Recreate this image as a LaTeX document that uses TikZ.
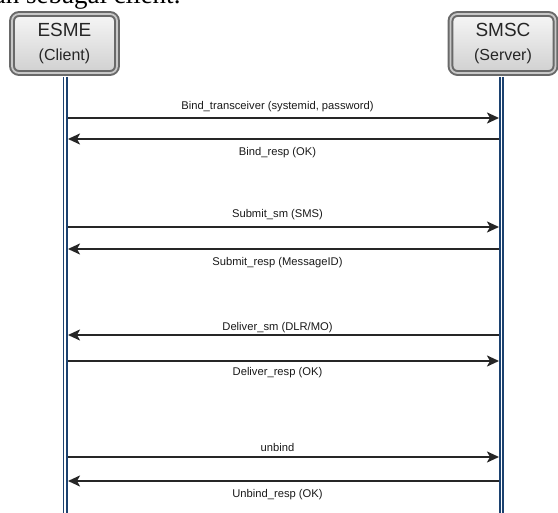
\documentclass[tikz,border=0pt]{standalone}
\usepackage{fontspec}
\setmainfont{Liberation Sans}
\newfontfamily\bodyserif{Liberation Serif}
\usetikzlibrary{arrows.meta}

\definecolor{boxedge}{RGB}{105,105,105}
\definecolor{boxgap}{RGB}{200,200,200}
\definecolor{boxtop}{RGB}{246,246,246}
\definecolor{boxbottom}{RGB}{208,208,208}
\definecolor{lifeblue}{RGB}{28,66,112}
\definecolor{msgline}{RGB}{38,38,38}

\begin{document}
\begin{tikzpicture}[x=1pt,y=-1pt,
    actor/.style={draw=boxedge,double=boxgap,double distance=1.8pt,line width=2pt,
      rounded corners=7pt,top color=boxtop,bottom color=boxbottom,
      minimum width=105pt,minimum height=59pt,align=center,text=black!85,
      font=\fontsize{19}{24}\selectfont},
    lifeline/.style={draw=lifeblue,double=white,line width=1.6pt,double distance=1.8pt,
      shorten <=3pt},
    msg/.style={draw=msgline,line width=2.1pt,-{Stealth[length=12pt,width=11pt,inset=3pt]}},
    lbl/.style={font=\fontsize{11.2}{13}\selectfont,text=black!90,anchor=base,
      inner sep=0pt,xshift=-6pt}]
  \useasboundingbox (0,0) rectangle (558,513);
  \clip (0,0) rectangle (558,513);
  \def\lx{68}
  \def\rx{499}

  \node[anchor=base east,font=\bodyserif\fontsize{27}{30}\selectfont] (intro)
    at (184,3.5) {an sebagai client.};

  % client and server boxes
  \node[actor] (esme) at (64.5,43.5) {ESME\\{\fontsize{16}{24}\selectfont (Client)}};
  \node[actor] (smsc) at (503,43.5) {SMSC\\{\fontsize{16}{24}\selectfont (Server)}};

  % lifelines
  \coordinate (esmeend) at (65,513);
  \coordinate (smscend) at (501.5,513);
  \draw[lifeline] (esme.south -| esmeend) -- (esmeend);
  \draw[lifeline] (smsc.south -| smscend) -- (smscend);

  % bind
  \coordinate (e1) at (\lx,118);
  \coordinate (s1) at (\rx,118);
  \draw[msg] (e1) -- node[lbl,yshift=8pt] {Bind\_transceiver (systemid, password)} (s1);
  \coordinate (e2) at (\lx,139);
  \coordinate (s2) at (\rx,139);
  \draw[msg] (s2) -- node[lbl,yshift=-17pt] {Bind\_resp (OK)} (e2);

  % submit
  \coordinate (e3) at (\lx,227);
  \coordinate (s3) at (\rx,227);
  \draw[msg] (e3) -- node[lbl,yshift=9pt] {Submit\_sm (SMS)} (s3);
  \coordinate (e4) at (\lx,249);
  \coordinate (s4) at (\rx,249);
  \draw[msg] (s4) -- node[lbl,yshift=-17pt] {Submit\_resp (MessageID)} (e4);

  % deliver
  \coordinate (e5) at (\lx,335);
  \coordinate (s5) at (\rx,335);
  \draw[msg] (s5) -- node[lbl,yshift=4pt] {Deliver\_sm (DLR/MO)} (e5);
  \coordinate (e6) at (\lx,361);
  \coordinate (s6) at (\rx,361);
  \draw[msg] (e6) -- node[lbl,yshift=-15pt] {Deliver\_resp (OK)} (s6);

  % unbind
  \coordinate (e7) at (\lx,457);
  \coordinate (s7) at (\rx,457);
  \draw[msg] (e7) -- node[lbl,yshift=5pt] {unbind} (s7);
  \coordinate (e8) at (\lx,481);
  \coordinate (s8) at (\rx,481);
  \draw[msg] (s8) -- node[lbl,yshift=-17pt] {Unbind\_resp (OK)} (e8);
\end{tikzpicture}
\end{document}
